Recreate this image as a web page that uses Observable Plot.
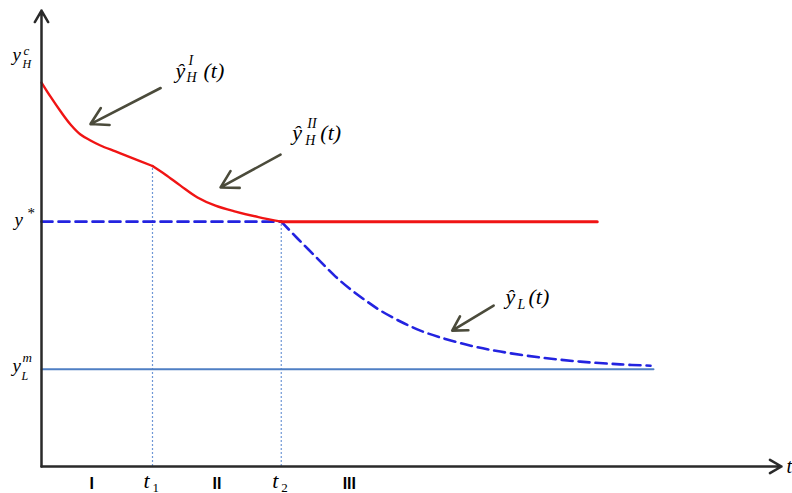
<!DOCTYPE html>
<html><head><meta charset="utf-8">
<script src="https://cdn.jsdelivr.net/npm/d3@7"></script>
<script src="https://cdn.jsdelivr.net/npm/@observablehq/plot@0.6"></script>
<style>body{margin:0;background:#fff} #chart svg{display:block;overflow:visible}</style>
</head><body><div id="chart"></div>
<script>
// Key levels and switching times (schematic units 0-100)
const t1 = 15, t2 = 32.4;
const yHc = 84.2, yStar = 53.7, yLm = 21.3;
const flatEnd = 75.1, yLmEnd = 82.7;

// Phase I: ŷ_H^I(t)
const phaseI_t = [0, 1.22, 2.57, 3.92, 5.27, 6.62, 7.97, 10.0, 12.03, 15.0];
const phaseI_y = [84.2, 81.1, 77.9, 75.0, 72.8, 71.5, 70.4, 69.1, 67.8, 65.9];
// Phase II: ŷ_H^II(t)
const phaseII_t = [15.0, 16.76, 18.78, 21.08, 23.51, 26.22, 29.32, 32.4];
const phaseII_y = [65.9, 64.0, 61.6, 59.0, 57.2, 55.9, 54.7, 53.7];
// ŷ_L(t) after t2
const yL_t = [32.4, 34.6, 37.3, 39.7, 41.8, 43.8, 45.8, 48.5, 51.2, 53.9, 58.0, 62.0, 67.4, 72.8, 78.2, 82.3];
const yL_y = [53.7, 50.0, 45.6, 41.7, 38.8, 36.4, 34.2, 31.8, 29.8, 28.3, 26.5, 25.2, 23.9, 23.0, 22.4, 22.1];

// Annotation arrows (tail -> head)
const arrowFromT = [16.1, 32.3, 61.1];
const arrowFromY = [83.0, 68.4, 35.3];
const arrowToT = [6.62, 24.2, 55.5];
const arrowToY = [75.1, 61.2, 29.8];

// Region labels on the t axis
const regionLabels = ["I", "II", "III"];
const regionX = [6.8, 23.7, 41.6];

// Curve label anchors
const curveLabelT = [18.1, 33.9, 62.7];
const curveLabelY = [85.1, 71.5, 35.7];

const zip = (xs, ys) => xs.map((x, i) => ({x, y: ys[i]}));
const SERIF = "'Liberation Serif', 'Times New Roman', serif";
const SANS = "'Liberation Sans', Arial, sans-serif";

function piece(x, y, text, o = {}) {
  return Plot.text([{x, y, s: text}], {
    x: "x", y: "y", text: "s",
    dx: o.dx || 0, dy: o.dy || 0,
    fontSize: o.size || 20,
    fontStyle: o.italic === false ? "normal" : "italic",
    fontWeight: o.weight || "normal",
    fontFamily: o.family || SERIF,
    textAnchor: o.anchor || "start",
    lineAnchor: "bottom",
    fill: "#000"
  });
}

const marks = [
  // dotted guides at t1, t2
  Plot.ruleX([{x: t1, y: phaseI_y[phaseI_y.length - 1]}], {x: "x", y1: 0, y2: "y", stroke: "#6f97d6", strokeWidth: 1.2, strokeDasharray: "2,2"}),
  Plot.ruleX([{x: t2, y: yStar}], {x: "x", y1: 0, y2: "y", stroke: "#6f97d6", strokeWidth: 1.2, strokeDasharray: "2,2"}),
  // y_L^m solid level
  Plot.line([{x: 0, y: yLm}, {x: yLmEnd, y: yLm}], {x: "x", y: "y", stroke: "#4f7fc4", strokeWidth: 2}),
  // y* dashed level and ŷ_L(t)
  Plot.line([{x: 0, y: yStar}, {x: t2, y: yStar}], {x: "x", y: "y", stroke: "#2323e0", strokeWidth: 2.6, strokeDasharray: "11,6"}),
  Plot.line(zip(yL_t, yL_y), {x: "x", y: "y", stroke: "#2323e0", strokeWidth: 2.6, strokeDasharray: "11,6", curve: "catmull-rom"}),
  // red curves
  Plot.line(zip(phaseI_t, phaseI_y), {x: "x", y: "y", stroke: "#f01414", strokeWidth: 2.4, curve: "catmull-rom"}),
  Plot.line(zip(phaseII_t, phaseII_y), {x: "x", y: "y", stroke: "#f01414", strokeWidth: 2.4, curve: "catmull-rom"}),
  Plot.line([{x: t2, y: yStar}, {x: flatEnd, y: yStar}], {x: "x", y: "y", stroke: "#f01414", strokeWidth: 3}),
  // axes with arrows
  Plot.arrow([{x1: 0, y1: 0, x2: 0, y2: 100}], {x1: "x1", y1: "y1", x2: "x2", y2: "y2", stroke: "#2a2a2a", strokeWidth: 2.5, headLength: 8}),
  Plot.arrow([{x1: 0, y1: 0, x2: 100, y2: 0}], {x1: "x1", y1: "y1", x2: "x2", y2: "y2", stroke: "#2a2a2a", strokeWidth: 2.5, headLength: 8}),
  // annotation arrows
  Plot.arrow(arrowFromT.map((t, i) => ({x1: t, y1: arrowFromY[i], x2: arrowToT[i], y2: arrowToY[i]})),
    {x1: "x1", y1: "y1", x2: "x2", y2: "y2", stroke: "#4b4b3b", strokeWidth: 2.6, headLength: 11}),

  // y-axis labels
  piece(0, yHc, "y", {dx: -29, dy: -22, size: 19}),
  piece(0, yHc, "c", {dx: -18, dy: -28, size: 13}),
  piece(0, yHc, "H", {dx: -19, dy: -15, size: 12}),
  piece(0, yStar, "y", {dx: -27, dy: 4, size: 19}),
  piece(0, yStar, "*", {dx: -14, dy: -4, size: 15, italic: false}),
  piece(0, yLm, "y", {dx: -29, dy: 3, size: 19}),
  piece(0, yLm, "m", {dx: -19, dy: -7, size: 13}),
  piece(0, yLm, "L", {dx: -20, dy: 11, size: 12}),

  // curve labels
  piece(curveLabelT[0], curveLabelY[0], "ŷ", {size: 22}),
  piece(curveLabelT[0], curveLabelY[0], "I", {dx: 13, dy: -13, size: 14}),
  piece(curveLabelT[0], curveLabelY[0], "H", {dx: 11, dy: 4, size: 14}),
  piece(curveLabelT[0], curveLabelY[0], "(t)", {dx: 28, size: 22}),

  piece(curveLabelT[1], curveLabelY[1], "ŷ", {size: 22}),
  piece(curveLabelT[1], curveLabelY[1], "II", {dx: 15, dy: -12, size: 14}),
  piece(curveLabelT[1], curveLabelY[1], "H", {dx: 13, dy: 5, size: 14}),
  piece(curveLabelT[1], curveLabelY[1], "(t)", {dx: 28, size: 22}),

  piece(curveLabelT[2], curveLabelY[2], "ŷ", {size: 22}),
  piece(curveLabelT[2], curveLabelY[2], "L", {dx: 12, dy: 5, size: 14}),
  piece(curveLabelT[2], curveLabelY[2], "(t)", {dx: 23, size: 22}),

  // t-axis labels
  Plot.text(regionLabels, {x: (d, i) => regionX[i], y: () => 0, text: d => d, dy: 22, lineAnchor: "bottom",
    fontFamily: SANS, fontWeight: "bold", fontSize: 16, fill: "#000"}),
  piece(t1, 0, "t", {dx: -9, dy: 21, size: 22}),
  piece(t1, 0, "1", {dx: 0, dy: 25, size: 13, italic: false}),
  piece(t2, 0, "t", {dx: -9, dy: 21, size: 22}),
  piece(t2, 0, "2", {dx: 0, dy: 25, size: 13, italic: false}),
  piece(100, 0, "t", {dx: 5, dy: 6, size: 20})
];

const chart = Plot.plot({
  width: 792, height: 493,
  marginLeft: 41, marginRight: 11, marginTop: 10, marginBottom: 27,
  x: {domain: [0, 100], axis: null},
  y: {domain: [0, 100], axis: null},
  style: {background: "#fff", overflow: "visible"},
  marks
});
document.getElementById("chart").append(chart);
</script></body></html>
